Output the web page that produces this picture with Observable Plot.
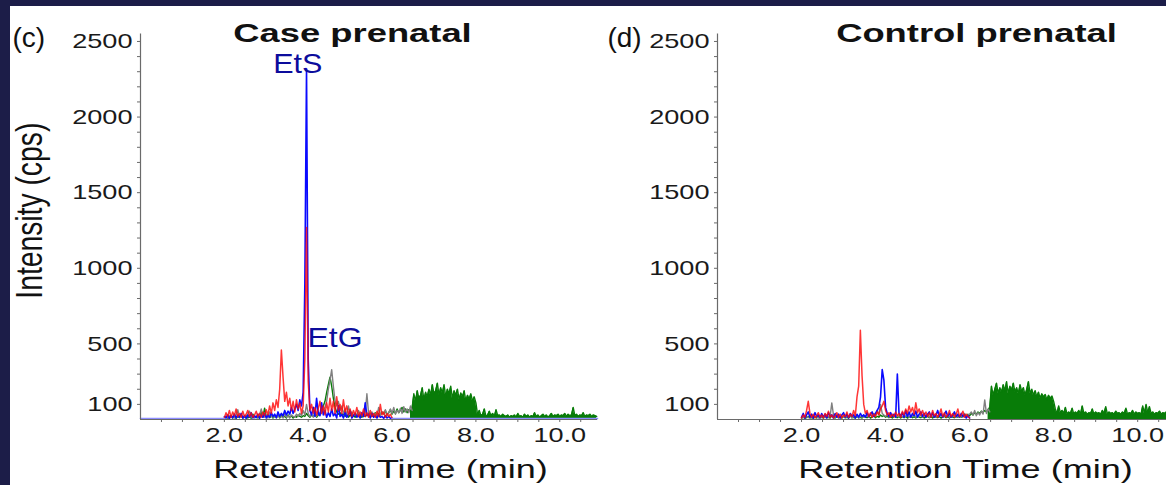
<!DOCTYPE html>
<html><head><meta charset="utf-8">
<script src="https://cdn.jsdelivr.net/npm/d3@7"></script>
<script src="https://cdn.jsdelivr.net/npm/@observablehq/plot@0.6"></script>
<style>
html,body{margin:0;padding:0;background:#1c1d48;overflow:hidden;width:1166px;height:485px;}
#sheet{position:absolute;left:10px;top:6px;width:1156px;height:479px;background:#fff;overflow:hidden;}
#case{position:absolute;left:0;top:0;width:595px;}
#ctrl{position:absolute;left:595px;top:0;width:575px;}
</style></head>
<body><div id="sheet"><div id="case"></div><div id="ctrl"></div></div>
<script>
// Sampling grid of the traces (minutes)
const RT_START = 2.0, RT_STEP = 0.04;
const xTicks = [2, 4, 6, 8, 10];
const xMinorTicks = [0.5,1,1.5,2,2.5,3,3.5,4,4.5,5,5.5,6,6.5,7,7.5,8,8.5,9,9.5,10,10.5];
const yTicks = [100, 500, 1000, 1500, 2000, 2500];
const yMinorTicks = [100,200,300,400,500,600,700,800,900,1000,1100,1200,1300,1400,1500,1600,1700,1800,1900,2000,2100,2200,2300,2400,2500];

// Case prenatal traces (intensity, cps)
const caseRed = [10,45,20,60,15,50,25,70,20,40, 15,55,20,35,60,20,45,15,30,55, 20,40,15,50,25,65,30,90,40,110,
  60,130,80,200,460,280,120,180,90,140, 60,120,50,130,70,110,40,90,400,1270, 250,60,100,40,80,30,70,120,40,90,
  30,110,50,140,60,120,40,150,60,100, 40,130,50,90,30,70,20,60,30,80, 20,50,25,70,20,45,15,60,20,40,
  15,55,20,100,30,50,15,40,20,35, 10];
const caseBlue = [20,10,30,8,25,12,35,10,28,15, 40,10,25,8,30,15,45,10,25,12, 35,8,30,15,40,10,30,15,45,20,
  35,12,50,20,40,25,60,30,55,35, 80,40,70,100,60,130,90,180,900,2320, 400,60,30,80,20,140,40,25,110,30,
  60,15,45,20,70,25,40,10,90,20, 35,10,50,15,30,60,10,25,40,15, 30,10,45,20,110,25,35,10,40,15,
  25,10,30,15,20,8,25,10,20,8, 10];
const caseGrey = [8,15,10,25,12,20,10,30,65,15, 25,10,20,12,35,55,15,25,10,20, 15,30,70,20,15,25,10,50,20,15,
  30,10,25,15,20,10,40,15,25,10, 30,20,15,35,20,40,25,60,30,100, 40,20,35,15,40,20,50,30,45,60,
  80,120,200,260,330,220,120,90,120,60, 90,40,70,30,90,35,50,25,40,20, 60,25,35,20,45,170,40,30,50,25,
  40,20,80,30,50,35,65,30,45,70, 40,80,35,60,45,75,40,85,50,70, 45,90,60];
const caseGreen = [10,20,8,15,25,10,18,8,20,12, 30,10,15,25,10,20,8,35,15,20, 10,25,50,15,75,20,30,12,25,10,
  20,15,30,10,25,15,20,10,30,15, 25,10,20,15,30,20,15,25,20,40, 25,15,30,20,35,15,30,40,60,90,
  120,180,230,280,220,140,80,50,35,45, 25,40,20,35,15,30,20,25,15,35, 20,30,15,25,20,35,25,40,20,30,
  45,25,40,30,50,35,60,30,45,65, 35,55,40,70,45,60,80,50,70,45, 65,55,80,170,120,190,140,160,210,130,
  180,150,200,160,230,170,190,240,160,210, 175,230,150,200,170,220,140,190,160,200, 130,175,150,190,120,160,135,170,120,150,
  110,30,60,25,35,70,20,30,55,25, 40,20,65,25,30,20,35,25,20,30, 15,25,20,30,15,40,20,25,15,35,
  20,30,15,25,20,45,20,30,15,25, 35,20,30,15,25,40,20,30,25,35, 20,30,25,40,20,35,25,30,80,25,
  35,20,30,25,45,20,30,25,35,20, 30,25,20];
// flat blue baseline of the case run
const caseBaseT = [[0, 2.0], [6.0, 10.9]];
const caseBaseV = 6;

// Control prenatal traces (intensity, cps)
const ctrlRed = [10,30,15,60,120,40,15,35,10,25, 45,15,30,10,40,20,55,15,30,10, 25,45,15,35,10,30,20,50,15,35,
  20,60,25,150,220,590,290,100,40,60, 20,45,15,35,20,50,30,70,90,120, 60,30,45,15,35,20,50,25,40,15,
  55,30,70,40,90,50,80,35,110,45, 70,30,60,25,50,20,45,15,60,25, 40,15,35,70,20,45,15,30,60,20,
  40,15,35,70,20,30,55,15,35,20, 10];
const ctrlBlue = [15,40,10,30,50,15,35,10,45,20, 30,10,40,15,35,10,45,20,30,10, 40,15,35,10,30,45,15,35,10,40,
  20,30,10,35,15,40,20,30,15,45, 20,35,50,20,40,60,80,150,330,260, 80,40,20,45,20,35,15,300,40,20,
  45,15,60,20,50,15,40,25,55,15, 35,50,20,40,15,35,50,20,45,15, 30,60,20,40,15,35,55,20,40,15,
  30,50,20,35,15,40,20,30,10,25, 10];
const ctrlGrey = [8,15,10,20,12,18,10,25,15,20, 10,25,15,20,12,30,15,20,110,30, 15,25,10,20,15,25,10,20,15,30,
  10,20,15,25,10,20,15,30,20,25, 15,30,20,40,25,60,30,100,40,30, 20,35,15,25,20,30,15,25,20,35,
  15,25,20,30,15,25,20,35,15,25, 20,30,15,25,20,35,15,25,20,30, 15,25,20,35,15,25,20,30,15,25,
  20,35,15,25,20,30,15,40,20,30, 35,50,30,60,25,45,30,55,35,130, 40,70,50];
const ctrlGreen = [10,15,8,12,20,10,15,8,18,10, 25,12,15,10,20,12,15,10,25,15, 10,20,12,15,10,20,12,15,10,25,
  12,15,10,20,12,15,10,20,15,12, 20,10,15,25,12,20,15,30,20,25, 15,20,12,18,10,20,15,12,20,10,
  18,12,20,10,15,20,12,18,10,20, 15,12,20,10,15,20,12,18,10,20, 15,12,20,10,15,20,12,18,10,20,
  15,12,20,15,25,15,20,30,20,35, 25,40,30,45,35,50,40,55,45,60, 50,65,80,220,160,200,240,170,210,180,
  230,190,250,170,220,195,240,180,210,170, 230,185,210,160,200,250,170,200,160,190, 150,180,140,170,150,165,130,160,140,155,
  120,70,40,90,45,60,40,80,35,50, 40,75,35,50,40,60,35,90,40,50, 35,45,40,70,35,50,40,45,35,60,
  40,85,35,50,40,45,35,55,40,45, 35,50,40,75,35,45,40,60,35,50, 40,45,35,90,40,100,45,85,40,50,
  35,45,40,55,35,45,40,50,35,45, 40,50,45];

// Peak annotations (case run)
const annotLabels = ["EtS", "EtG"];
const annotT = [3.75, 4.64];
const annotV = [2348, 536];

const FONT = "'Liberation Sans', Arial, Helvetica, sans-serif";
const C = {red: "#ff0a0a", blue: "#0a0aff", grey: "#808080", green: "#087c08", base: "#8c8cff", axis: "#6a6a6a", annot: "#0c0c9c"};

const toRows = vals => vals.map((v, i) => ({t: RT_START + i * RT_STEP, v}));

function chromatogram(cfg) {
  const red = toRows(cfg.red), blue = toRows(cfg.blue), grey = toRows(cfg.grey), green = toRows(cfg.green);
  const marks = [
    Plot.areaY(green.filter(d => d.t >= 6.44), {x: "t", y: "v", fill: C.green}),
    Plot.line(green, {x: "t", y: "v", stroke: C.green, strokeWidth: 1.4}),
    Plot.line(grey, {x: "t", y: "v", stroke: C.grey, strokeWidth: 1.4}),
    Plot.line(blue, {x: "t", y: "v", stroke: C.blue, strokeWidth: 1.6}),
    Plot.line(red, {x: "t", y: "v", stroke: C.red, strokeWidth: 1.5, strokeOpacity: 0.82}),
  ];
  if (cfg.baseT) {
    const rows = cfg.baseT.flatMap((seg, k) => seg.map(t => ({t, v: cfg.baseV, k})));
    marks.push(Plot.line(rows, {x: "t", y: "v", z: "k", stroke: C.base, strokeWidth: 1.6}));
  }
  marks.push(
    Plot.ruleX([0], {stroke: C.axis, strokeWidth: 1.2}),
    Plot.ruleY([0], {stroke: C.axis, strokeWidth: 1.2}),
    Plot.axisY({ticks: yMinorTicks, tickSize: 3, anchor: "left", stroke: C.axis, fill: "none", label: null}),
    Plot.axisY({ticks: yTicks, tickSize: 0, tickPadding: 8, anchor: "left", fontSize: 21, tickFormat: d3.format("d"), label: null}),
    Plot.axisX({ticks: xMinorTicks, tickSize: 3, anchor: "bottom", stroke: C.axis, fill: "none", label: null}),
    Plot.axisX({ticks: xTicks, tickSize: 0, tickPadding: 8, anchor: "bottom", fontSize: 21, tickFormat: d3.format(".1f"), label: null}),
    Plot.text([cfg.title], {frameAnchor: "top", textAnchor: "middle", dx: cfg.titleDx, dy: 0, fontSize: 25.6, fontWeight: "bold", lineAnchor: "middle", fill: "#111"}),
    Plot.text([cfg.tag], {frameAnchor: "top-left", textAnchor: "start", dx: cfg.tagDx, dy: 4.6, fontSize: 28, lineAnchor: "middle", fill: "#111"}),
    Plot.text(["Retention Time (min)"], {frameAnchor: "bottom", textAnchor: "middle", dx: cfg.xLabelDx, dy: 50.5, fontSize: 26.5, lineAnchor: "middle", fill: "#111"})
  );
  if (cfg.yLabel) {
    marks.push(Plot.text([cfg.yLabel], {frameAnchor: "left", textAnchor: "middle", rotate: -90, dx: -110, dy: -16, fontSize: 36, lineAnchor: "middle", fill: "#111"}));
  }
  if (cfg.annot) {
    const rows = annotLabels.map((label, i) => ({label, t: annotT[i], v: annotV[i]}));
    marks.push(Plot.text(rows, {x: "t", y: "v", text: "label", fill: C.annot, fontSize: 28, lineAnchor: "middle"}));
  }
  return Plot.plot({
    width: cfg.width, height: 479,
    marginLeft: cfg.ml, marginRight: cfg.mr, marginTop: 27.4, marginBottom: 66,
    x: {domain: [0, 10.9]},
    y: {domain: [0, 2550]},
    style: {background: "transparent", fontFamily: FONT, color: "#1a1a1a", overflow: "visible", maxWidth: "none"},
    marks
  });
}

function stretchText(svg) {
  for (const t of svg.querySelectorAll("text")) {
    const s = t.textContent;
    if (!s) continue;
    const w = t.getComputedTextLength();
    let target = w;
    if (s === "Intensity (cps)") target = 176;
    else if (/^[0-9.]+$/.test(s)) target = w * 1.29;
    else if (s.startsWith("Retention")) target = w * 1.36;
    else if (s.endsWith("prenatal")) target = w * 1.42;
    else if (s === "EtS") target = w * 1.09;
    else if (s === "EtG") target = w * 1.14;
    t.setAttribute("textLength", target.toFixed(1));
    t.setAttribute("lengthAdjust", "spacingAndGlyphs");
  }
}

const left = chromatogram({
  title: "Case prenatal", tag: "(c)", yLabel: "Intensity (cps)", annot: true,
  red: caseRed, blue: caseBlue, grey: caseGrey, green: caseGreen, baseT: caseBaseT, baseV: caseBaseV,
  width: 595, ml: 130, mr: 8, titleDx: -16.5, tagDx: -128, xLabelDx: 11.5
});
const right = chromatogram({
  title: "Control prenatal", tag: "(d)",
  red: ctrlRed, blue: ctrlBlue, grey: ctrlGrey, green: ctrlGreen,
  width: 575, ml: 112, mr: 5, titleDx: 30, tagDx: -110, xLabelDx: 19
});
document.getElementById("case").appendChild(left);
document.getElementById("ctrl").appendChild(right);
stretchText(left);
stretchText(right);
</script>
</body></html>
